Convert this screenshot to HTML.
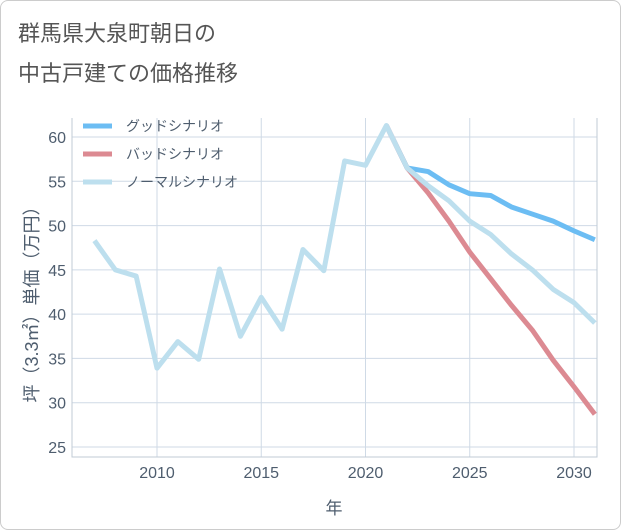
<!DOCTYPE html>
<html><head><meta charset="utf-8"><style>
body{margin:0;background:#fff;}
.card{position:absolute;left:0;top:0;width:619px;height:528px;border:1px solid #ccc;border-radius:8px;background:#fff;}
.t{position:absolute;left:18px;font:22px "Liberation Sans","Noto Sans CJK JP",sans-serif;color:#555;}
svg text{font-family:"Liberation Sans","Noto Sans CJK JP",sans-serif;}
</style></head><body>
<div class="card"></div>
<div class="t" style="top:16px">群馬県大泉町朝日の</div>
<div class="t" style="top:56px">中古戸建ての価格推移</div>
<svg id="c" width="621" height="530" style="position:absolute;left:0;top:0"></svg>
<script>
const years=[2007,2008,2009,2010,2011,2012,2013,2014,2015,2016,2017,2018,2019,2020,2021,2022,2023,2024,2025,2026,2027,2028,2029,2030,2031];
const normal=[48.3,45,44.3,33.9,36.9,34.9,45.1,37.5,41.9,38.3,47.3,44.9,57.3,56.8,61.3,56.5,54.5,52.8,50.5,49,46.8,45,42.8,41.3,39];
const fYears=[2021,2022,2023,2024,2025,2026,2027,2028,2029,2030,2031];
const good=[61.3,56.5,56.1,54.6,53.6,53.4,52.1,51.3,50.5,49.4,48.4];
const bad=[61.3,56.5,53.7,50.5,47,44,41,38.2,34.8,31.8,28.7];
const xTicks=[2010,2015,2020,2025,2030];
const yTicks=[25,30,35,40,45,50,55,60];
const L=72,R=597,T=118,B=457;
const xs=y=>157+(y-2010)*20.85;
const ys=v=>137+(60-v)*8.857;
const svg=document.getElementById('c');const NS='http://www.w3.org/2000/svg';
function mk(t,a,p){const e=document.createElementNS(NS,t);for(const k in a)e.setAttribute(k,a[k]);(p||svg).appendChild(e);return e;}
yTicks.forEach(v=>{const l=mk('line',{x1:L,x2:R,y1:ys(v),y2:ys(v),stroke:'#cfdae6'});
const t=mk('text',{x:L-6,y:ys(v)+6,'text-anchor':'end','font-size':16,fill:'#4e5d6e'});t.textContent=v;});
xTicks.forEach(v=>{const l=mk('line',{x1:xs(v),x2:xs(v),y1:T,y2:B,stroke:'#cfdae6'});
const t=mk('text',{x:xs(v),y:478,'text-anchor':'middle','font-size':16,fill:'#4e5d6e'});t.textContent=v;});
const ax=mk('path',{d:`M${L} ${T}V${B}H${R}V${T}`,fill:'none',stroke:'#c0cbd6'});
function line(xa,va,col,name){const p=mk('polyline',{points:xa.map((x,i)=>xs(x)+','+ys(va[i])).join(' '),fill:'none',stroke:col,'stroke-width':5,'stroke-linejoin':'round'});}
line(fYears,good,'#6cbdf3','good-scenario-line');
line(fYears,bad,'#dc8a92','bad-scenario-line');
line(years,normal,'#bddfee','normal-scenario-line');
const leg=[['グッドシナリオ','#6cbdf3'],['バッドシナリオ','#dc8a92'],['ノーマルシナリオ','#bddfee']];
leg.forEach((d,i)=>{const y=126+i*28;const g=mk('g',{});
mk('line',{x1:83,x2:112,y1:y,y2:y,stroke:d[1],'stroke-width':5},g);
const t=mk('text',{x:126,y:y+5,'font-size':14,fill:'#4e5d6e'},g);t.textContent=d[0];});
const xt=mk('text',{x:334,y:514,'text-anchor':'middle','font-size':17,fill:'#4e5d6e'});xt.textContent='年';
const yt=mk('text',{x:0,y:0,'text-anchor':'middle','font-size':18,fill:'#4e5d6e',transform:'translate(38,300) rotate(-90)'});yt.textContent='坪（3.3㎡）単価（万円）';
</script>
</body></html>
